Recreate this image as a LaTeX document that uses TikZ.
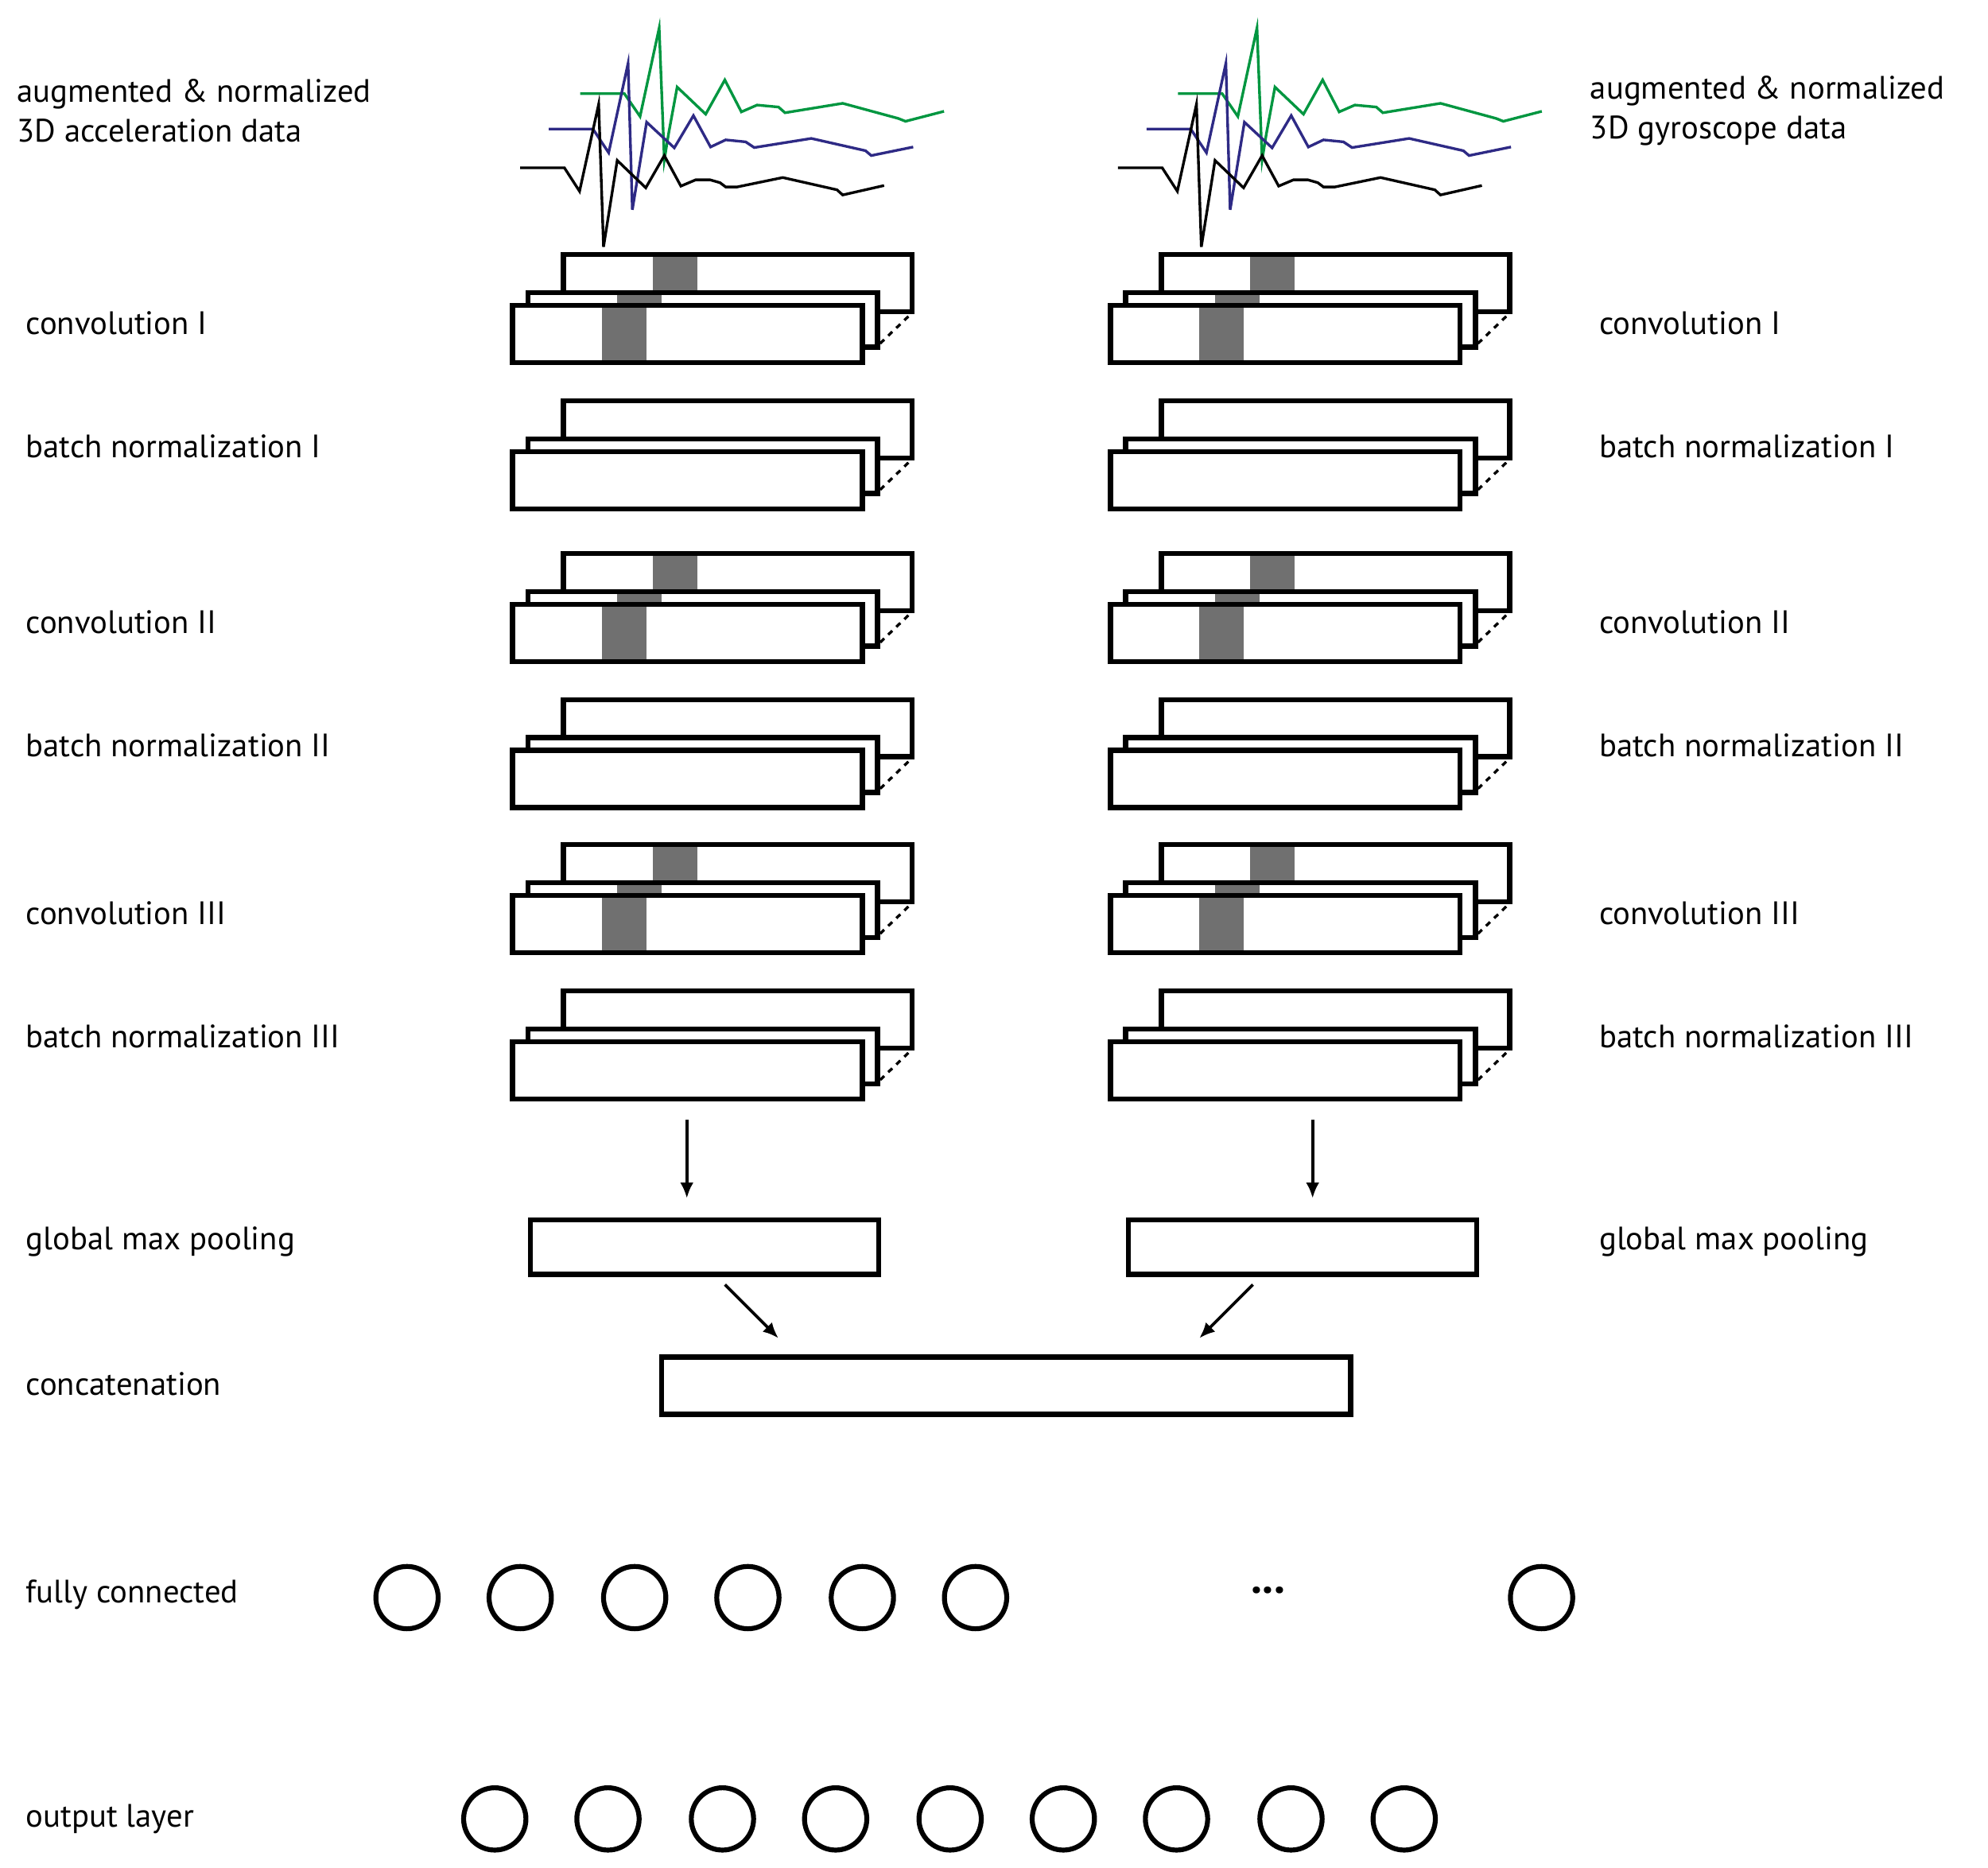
\documentclass[tikz,border=0pt]{standalone}
\usetikzlibrary{arrows.meta}
\usepackage{fontspec}
\setmainfont{PT Sans}
\definecolor{sgreen}{HTML}{009640}
\definecolor{sblue}{HTML}{2E2A85}
\definecolor{fgray}{HTML}{707070}
\newcommand\layerstack[3]{% x of front-left, y of front-top, conv flag
  \begin{scope}[shift={(#1,#2)}]
    \draw[box] (40,-40) rectangle (314,5);
    \ifnum#3=1 \fill[fgray] (110,-38) rectangle (145,-12);\fi
    \draw[box] (12,-10) rectangle (287,33);
    \ifnum#3=1 \fill[fgray] (82,-8) rectangle (117,-2);\fi
    \draw[box] (0,0) rectangle (275,45);
    \ifnum#3=1 \fill[fgray] (70,2) rectangle (105,43);\fi
    \draw[line width=1.2pt,dash pattern=on 2.5pt off 2.5pt] (289,30) -- (313,7);
  \end{scope}}
\begin{document}
\begin{tikzpicture}[x=0.02cm,y=-0.02cm,
  box/.style={draw,line width=2.3pt,fill=white},
  lbl/.style={anchor=west,inner sep=0,font=\fontsize{14.5}{18}\selectfont,align=left},
  neuron/.style={circle,draw,line width=2.2pt,minimum size=0.98cm,inner sep=0},
  arr/.style={-{Latex[length=7pt,width=6pt]},line width=1.3pt},
  sig/.style={line width=1.2pt,line join=miter}]
\useasboundingbox (0,0) rectangle (1563,1468);
% signals
\foreach \dx in {400,870}{
\begin{scope}[shift={(\dx,0)},scale=0.2244]
\draw[sig,sgreen] (250,328)--(405,328)--(460,408)--(527,98)--(545,560)--(560,468)--(590,305)--(690,400)--(757,280)--(815,392)--(870,368)--(945,375)--(968,395)--(1170,362)--(1365,415)--(1390,425)--(1525,390);
\draw[sig,sblue] (140,452)--(295,452)--(350,535)--(418,222)--(433,735)--(483,428)--(580,518)--(647,405)--(707,515)--(760,490)--(830,497)--(860,517)--(1060,485)--(1250,528)--(1270,545)--(1417,515);
\draw[sig,black] (40,588)--(195,588)--(248,670)--(315,365)--(332,865)--(380,562)--(480,658)--(545,545)--(603,652)--(655,630)--(705,630)--(740,640)--(760,655)--(800,655)--(960,622)--(1150,665)--(1170,683)--(1315,650);
\end{scope}}
% stacks
\foreach \xx in {403,873}{
  \layerstack{\xx}{240}{1}
  \layerstack{\xx}{355}{0}
  \layerstack{\xx}{475}{1}
  \layerstack{\xx}{590}{0}
  \layerstack{\xx}{704}{1}
  \layerstack{\xx}{819}{0}
}
% labels
\node[lbl] (tl) at (13,87) {augmented \& normalized\\3D acceleration data};
\node[lbl] (tr) at (1250,87) {augmented \& normalized\\3D gyroscope data};
\foreach \y/\t/\n in {254/convolution I/a,351/batch normalization I/b,489/convolution II/c,586/batch normalization II/d,718/convolution III/e,815/batch normalization III/f,976/global max pooling/g}{
  \node[lbl] (L\n) at (20,\y) {\t};
  \node[lbl] (R\n) at (1257,\y) {\t};
}
\node[lbl] (Lconc) at (20,1088) {concatenation};
\node[lbl] (Lfc) at (20,1254) {fully connected};
\node[lbl] (Lout) at (20,1430) {output layer};
% pooling & concat
\node[box,minimum width=5.48cm,minimum height=0.86cm,anchor=north west] (gl) at (415,957) {};
\node[box,minimum width=5.48cm,minimum height=0.86cm,anchor=north west] (gr) at (885,957) {};
\node[box,minimum width=10.84cm,minimum height=0.9cm,anchor=north west] (cc) at (518,1065) {};
\coordinate (a1) at (540,880); \coordinate (a2) at (540,942);
\coordinate (b1) at (1032,880); \coordinate (b2) at (1032,942);
\coordinate (c1) at (570,1010); \coordinate (c2) at (612,1052);
\coordinate (d1) at (985,1010); \coordinate (d2) at (943,1052);
\draw[arr] (a1)--(a2); \draw[arr] (b1)--(b2);
\draw[arr] (c1)--(c2); \draw[arr] (d1)--(d2);
% neurons
\foreach \x [count=\i] in {320,409,499,588,678,767,1212}
  \node[neuron] (f\i) at (\x,1256) {};
\node[font=\fontsize{20}{20}\selectfont\bfseries,inner sep=0] (dots) at (997,1250) {...};
\foreach \x [count=\i] in {389,478,568,657,747,836,925,1015,1104}
  \node[neuron] (o\i) at (\x,1430) {};
\end{tikzpicture}
\end{document}
